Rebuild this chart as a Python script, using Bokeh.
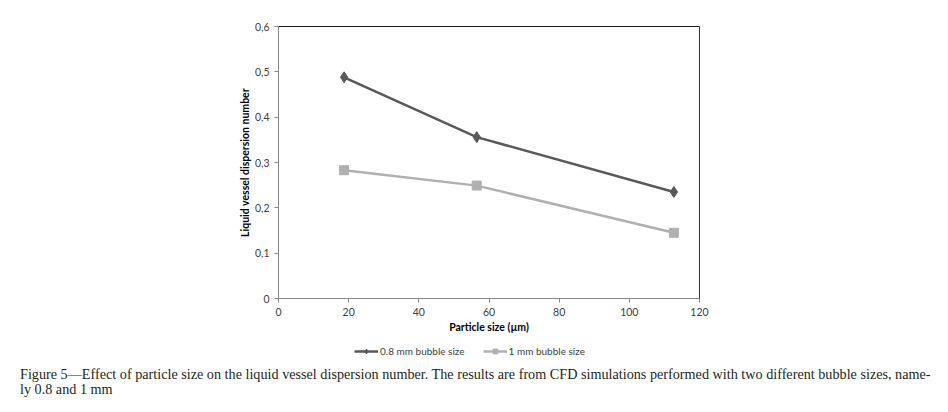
import math
from bokeh.plotting import figure
from bokeh.models import Range1d, FixedTicker, Legend, LegendItem, LinearAxis, Div, Label
from bokeh.layouts import column
from bokeh.embed import file_html
from bokeh.resources import INLINE

# ---- data ----
particle_size = [18.7, 56.5, 112.7]
bubble_08 = [0.488, 0.356, 0.235]
bubble_10 = [0.283, 0.249, 0.145]
series_names = ["0.8 mm bubble size", "1 mm bubble size"]
x_ticks = [0, 20, 40, 60, 80, 100, 120]
y_ticks = [0, 0.1, 0.2, 0.3, 0.4, 0.5, 0.6]
y_tick_labels = ["0", "0,1", "0,2", "0,3", "0,4", "0,5", "0,6"]
x_title = "Particle size (µm)"
y_title = "Liquid vessel dispersion number"
caption_lines = [
    "Figure 5\u2014Effect of particle size on the liquid vessel dispersion number. The results are from CFD simulations performed with two different bubble sizes, name-",
    "ly 0.8 and 1 mm",
]

# ---- layout (pixels) ----
W = 948
AX_LEFT, AX_RIGHT = 278, 699      # pixel columns of x = 0 and x = 120
AX_TOP, AXIS_Y = 26, 298          # pixel rows of y = 0.6 and y = 0
FRAME_LEFT, FRAME_RIGHT = 225, 712
FRAME_TOP = 14
FRAME_BOTTOM = 362                # frame extends below the x axis to hold the legend
BOTTOM_PANEL = 45
H = FRAME_BOTTOM + BOTTOM_PANEL
pxx = (AX_RIGHT - AX_LEFT) / 120.0
pxy = (AXIS_Y - AX_TOP) / 0.6
x_lo = -(AX_LEFT - FRAME_LEFT) / pxx
x_hi = 120 + (FRAME_RIGHT - AX_RIGHT) / pxx
y_lo = -(FRAME_BOTTOM - AXIS_Y) / pxy
y_hi = 0.6 + (AX_TOP - FRAME_TOP) / pxy

p = figure(width=W, height=H, output_backend="svg", toolbar_location=None,
           x_range=Range1d(x_lo, x_hi), y_range=Range1d(y_lo, y_hi),
           x_axis_location=None, y_axis_location=None,
           min_border_left=FRAME_LEFT, min_border_right=W - FRAME_RIGHT,
           min_border_top=FRAME_TOP, min_border_bottom=BOTTOM_PANEL)
p.background_fill_color = "white"
p.border_fill_color = "white"
p.outline_line_color = None
p.grid.visible = False

xaxis = LinearAxis(fixed_location=0, bounds=(0, 120), axis_label=x_title,
                   ticker=FixedTicker(ticks=x_ticks))
yaxis = LinearAxis(fixed_location=0, bounds=(0, 0.6),
                   ticker=FixedTicker(ticks=y_ticks),
                   major_label_overrides={t: l for t, l in zip(y_ticks, y_tick_labels)})
for ax in (xaxis, yaxis):
    ax.axis_line_color = "#868686"
    ax.major_tick_line_color = "#868686"
    ax.major_tick_out = 4
    ax.major_tick_in = 0
    ax.minor_tick_line_color = None
    ax.major_label_text_font = "Lato"
    ax.major_label_text_font_size = "10.5px"
    ax.major_label_text_color = "#404040"
    ax.axis_label_text_font = "Lato"
    ax.axis_label_text_font_size = "10.5px"
    ax.axis_label_text_font_style = "bold"
    ax.axis_label_text_color = "#000000"
    ax.major_label_standoff = 5
    ax.axis_label_standoff = 2
p.add_layout(xaxis, "below")
p.add_layout(yaxis, "left")

# y-axis title, centred on the 0..0.6 span
p.add_layout(Label(x=244 - FRAME_LEFT, y=FRAME_BOTTOM - (AX_TOP + AXIS_Y) / 2,
                   x_units="screen", y_units="screen", text=y_title,
                   angle=math.pi / 2, text_align="center", text_baseline="middle",
                   text_font="Lato", text_font_size="10.5px", text_font_style="bold",
                   text_color="#000000"))

# plot-area border on the top and right
top_border = LinearAxis(fixed_location=0.6, bounds=(0, 120), ticker=FixedTicker(ticks=[]),
                        axis_line_color="#1a1a1a", major_tick_line_color=None,
                        minor_tick_line_color=None)
right_border = LinearAxis(fixed_location=120, bounds=(0, 0.6), ticker=FixedTicker(ticks=[]),
                          axis_line_color="#333333", major_tick_line_color=None,
                          minor_tick_line_color=None)
p.add_layout(top_border, "above")
p.add_layout(right_border, "right")

c1, c2 = "#595959", "#b0b0b0"
l1 = p.line(particle_size, bubble_08, line_color=c1, line_width=2.5)
m1 = p.scatter(particle_size, bubble_08, marker="diamond", size=11,
               fill_color=c1, line_color=c1)
l2 = p.line(particle_size, bubble_10, line_color=c2, line_width=2.5)
m2 = p.scatter(particle_size, bubble_10, marker="square", size=9,
               fill_color=c2, line_color=c2)

legend = Legend(items=[LegendItem(label=series_names[0], renderers=[l1, m1]),
                       LegendItem(label=series_names[1], renderers=[l2, m2])],
                orientation="horizontal", location=(356 - FRAME_LEFT - 2, 5),
                label_text_font="Lato", label_text_font_size="10px",
                label_text_color="#404040", glyph_width=24, glyph_height=12,
                spacing=18, padding=2, margin=0, border_line_color=None,
                background_fill_alpha=0, label_standoff=2)
p.add_layout(legend, "center")

cap = Div(text="<br>".join(caption_lines), width=W - 20,
          margin=(367 - H, 0, 0, 20),
          styles={"font-family": "Liberation Serif", "font-size": "14.2px",
                  "line-height": "15px", "color": "#231f20",
                  "white-space": "nowrap"})

open("out.html", "w").write(file_html(column(p, cap, spacing=0), INLINE))
